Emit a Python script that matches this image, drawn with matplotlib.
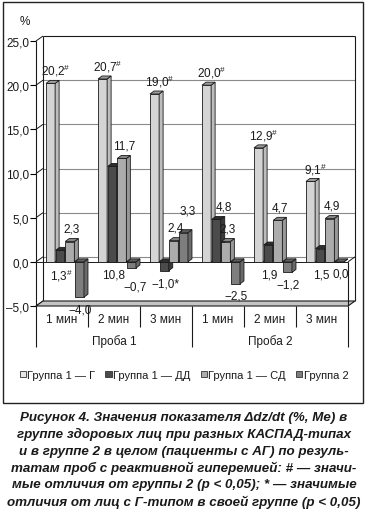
import matplotlib
matplotlib.use('Agg')
import matplotlib.pyplot as plt
from matplotlib.patches import Polygon, Rectangle, Patch
from matplotlib.ticker import FuncFormatter

plt.rcParams['font.family'] = ['Liberation Sans', 'DejaVu Sans']
plt.rcParams['mathtext.default'] = 'regular'

# data
minutes = ['1 мин', '2 мин', '3 мин', '1 мин', '2 мин', '3 мин']
probes = ['Проба 1', 'Проба 2']
series = ['Группа 1 — Г', 'Группа 1 — ДД', 'Группа 1 — СД', 'Группа 2']
g_type = [20.2, 20.7, 19.0, 20.0, 12.9, 9.1]
dd_type = [1.3, 10.8, -1.0, 4.8, 1.9, 1.5]
sd_type = [2.3, 11.7, 2.4, 2.3, 4.7, 4.9]
group2 = [-4.0, -0.7, 3.3, -2.5, -1.2, 0.0]
g_marks = ['#', '#', '#', '#', '#', '#']
dd_marks = ['#', '', '*', '', '', '']
caption = [
    'Рисунок 4. Значения показателя Δdz/dt (%, Me) в',
    'группе здоровых лиц при разных КАСПАД-типах',
    'и в группе 2 в целом (пациенты с АГ) по резуль-',
    'татам проб с реактивной гиперемией: # — значи-',
    'мые отличия от группы 2 (p < 0,05); * — значимые',
    'отличия от лиц с Г-типом в своей группе (p < 0,05)',
]

# style
face = ['#d4d4d4', '#4b4b4b', '#acacac', '#7e7e7e']
side = ['#bdbdbd', '#3a3a3a', '#989898', '#6a6a6a']
topc = ['#9c9c9c', '#2e2e2e', '#858585', '#5c5c5c']
offs = [0.28, 0.465, 0.65, 0.835]
bw = 0.175
TXT = '#1a1a1a'

W, H = 368, 510
fig = plt.figure(figsize=(W / 100, H / 100), dpi=100)
ax = fig.add_axes([36 / W, 1 - 307 / H, 312 / W, 265 / H])
ax.set_xlim(0, 6)
ax.set_ylim(-5, 25)
ppx = 312 / 6
ppy = 265 / 30
DX, DY = 7 / ppx, 5 / ppy      # wall depth
bx, by = 4 / ppx, 3 / ppy      # bar depth

for sp in ax.spines.values():
    sp.set_visible(False)
ax.set_xticks([])
ax.set_yticks(range(-5, 26, 5))
ax.yaxis.set_major_formatter(FuncFormatter(lambda v, p: f'{v:.1f}'.replace('.', ',').replace('-', '–')))
ax.tick_params(axis='y', length=4, width=0.8, pad=1, labelsize=8.5, labelcolor=TXT)


def line(p, q, **kw):
    kw.setdefault('color', '#1a1a1a')
    kw.setdefault('lw', 0.8)
    ax.plot([p[0], q[0]], [p[1], q[1]], clip_on=False, solid_capstyle='butt', **kw)


# back wall
for y in range(0, 25, 5):
    line((DX, y + DY), (6 + DX, y + DY), color='#8a8a8a', lw=0.8, zorder=1)
line((DX, 25 + DY), (6 + DX, 25 + DY), zorder=1)
line((DX, -5 + DY), (DX, 25 + DY), zorder=1)
line((6 + DX, -5 + DY), (6 + DX, 25 + DY), zorder=1)
for y in range(-5, 26, 5):
    line((0, y), (DX, y + DY), lw=0.7, zorder=1)

# floor
ax.add_patch(Polygon([(0, -5), (6, -5), (6 + DX, -5 + DY), (DX, -5 + DY)], closed=True,
                     facecolor='#c4c4c4', edgecolor='#1a1a1a', lw=0.8, clip_on=False, zorder=1))
# zero plane
line((0, 0), (6, 0), lw=0.7, zorder=1.5)
line((6, 0), (6 + DX, DY), lw=0.7, zorder=1.5)
line((6, 0), (6, -5), lw=0.8, zorder=1.5)

# front axis and category frame
y_low = -5 - 41 / ppy
y_mid = -5 - 21 / ppy
line((0, 25), (0, y_low), zorder=2)
for c in range(1, 6):
    line((c, -5), (c, y_low if c == 3 else y_mid), zorder=2)
line((6, -5), (6, y_low), zorder=2)

for c, m in enumerate(minutes):
    ax.annotate(m, (c + 0.5, -5), xytext=(0, -13), textcoords='offset pixels',
                ha='center', va='center', fontsize=8.5, color=TXT, annotation_clip=False)
for i, p in enumerate(probes):
    ax.annotate(p, (1.5 + 3 * i, -5), xytext=(0, -35), textcoords='offset pixels',
                ha='center', va='center', fontsize=8.5, color=TXT, annotation_clip=False)

# bars
all_series = [g_type, dd_type, sd_type, group2]
for s, vals in enumerate(all_series):
    for c, v in enumerate(vals):
        x = c + offs[s]
        z = 3 + s
        lo, hi = min(v, 0), max(v, 0)
        ax.bar(x, v, bw, color=face[s], edgecolor='#1a1a1a', lw=0.6, zorder=z)
        xr = x + bw / 2
        ax.add_patch(Polygon([(xr, lo), (xr, hi), (xr + bx, hi + by), (xr + bx, lo + by)],
                             closed=True, facecolor=side[s], edgecolor='#1a1a1a', lw=0.6, zorder=z))
        ax.add_patch(Polygon([(x - bw / 2, hi), (xr, hi), (xr + bx, hi + by), (x - bw / 2 + bx, hi + by)],
                             closed=True, facecolor=topc[s], edgecolor='#1a1a1a', lw=0.6, zorder=z))


def fmt(v):
    return f'{v:.1f}'.replace('.', ',').replace('-', '−')


def label(x, y, text, dx, dy):
    ax.annotate(text, (x, y), xytext=(dx, dy), textcoords='offset pixels', ha='center',
                va='center', fontsize=8.5, color=TXT, annotation_clip=False, zorder=10)


# label nudges (pixels) for crowded spots
nudge = {(1, 3): (6, 0), (3, 2): (2, 9), (3, 1): (3, -6)}

for s, vals in enumerate(all_series):
    for c, v in enumerate(vals):
        x = c + offs[s]
        text = fmt(v)
        dx, dy = 2, 13
        if s == 0:
            text += r'$^{\#}$' if g_marks[c] else ''
            dx = 5
        if s == 1:
            mk = dd_marks[c]
            text += r'$^{\#}$' if mk == '#' else mk
            if c != 3:
                v, dx, dy = min(v, 0), 1, -13
        if s == 3 and v <= 0:
            dx, dy = 1, -12
        ddx, ddy = nudge.get((s, c), (0, 0))
        label(x, v, text, dx + ddx, dy + ddy)

# legend
handles = [Patch(facecolor=f, edgecolor='#333333', lw=0.6, label=n) for f, n in zip(face, series)]
handles[0].set_facecolor('#e6e6e6')
fig.legend(handles=handles, loc='center', bbox_to_anchor=(0.5, 1 - 376 / H), ncol=4,
           frameon=False, fontsize=8, handlelength=0.55, handleheight=0.55,
           handletextpad=0.15, columnspacing=0.9, borderaxespad=0, labelcolor=TXT)

fig.text(25 / W, 1 - 22 / H, '%', ha='center', va='center', fontsize=8.5, color=TXT)
fig.add_artist(Rectangle((3 / W, 1 - 404 / H), 360 / W, 401 / H, transform=fig.transFigure,
                         fill=False, lw=1.0, edgecolor='#222222'))

for i, t in enumerate(caption):
    fig.text(0.5, 1 - (418 + i * 16.8) / H, t, ha='center', va='center', fontsize=9.6,
             fontweight='bold', fontstyle='italic', color=TXT,
             family=['Liberation Sans Narrow', 'Liberation Sans', 'DejaVu Sans'])

fig.savefig('out.png', dpi=100)
